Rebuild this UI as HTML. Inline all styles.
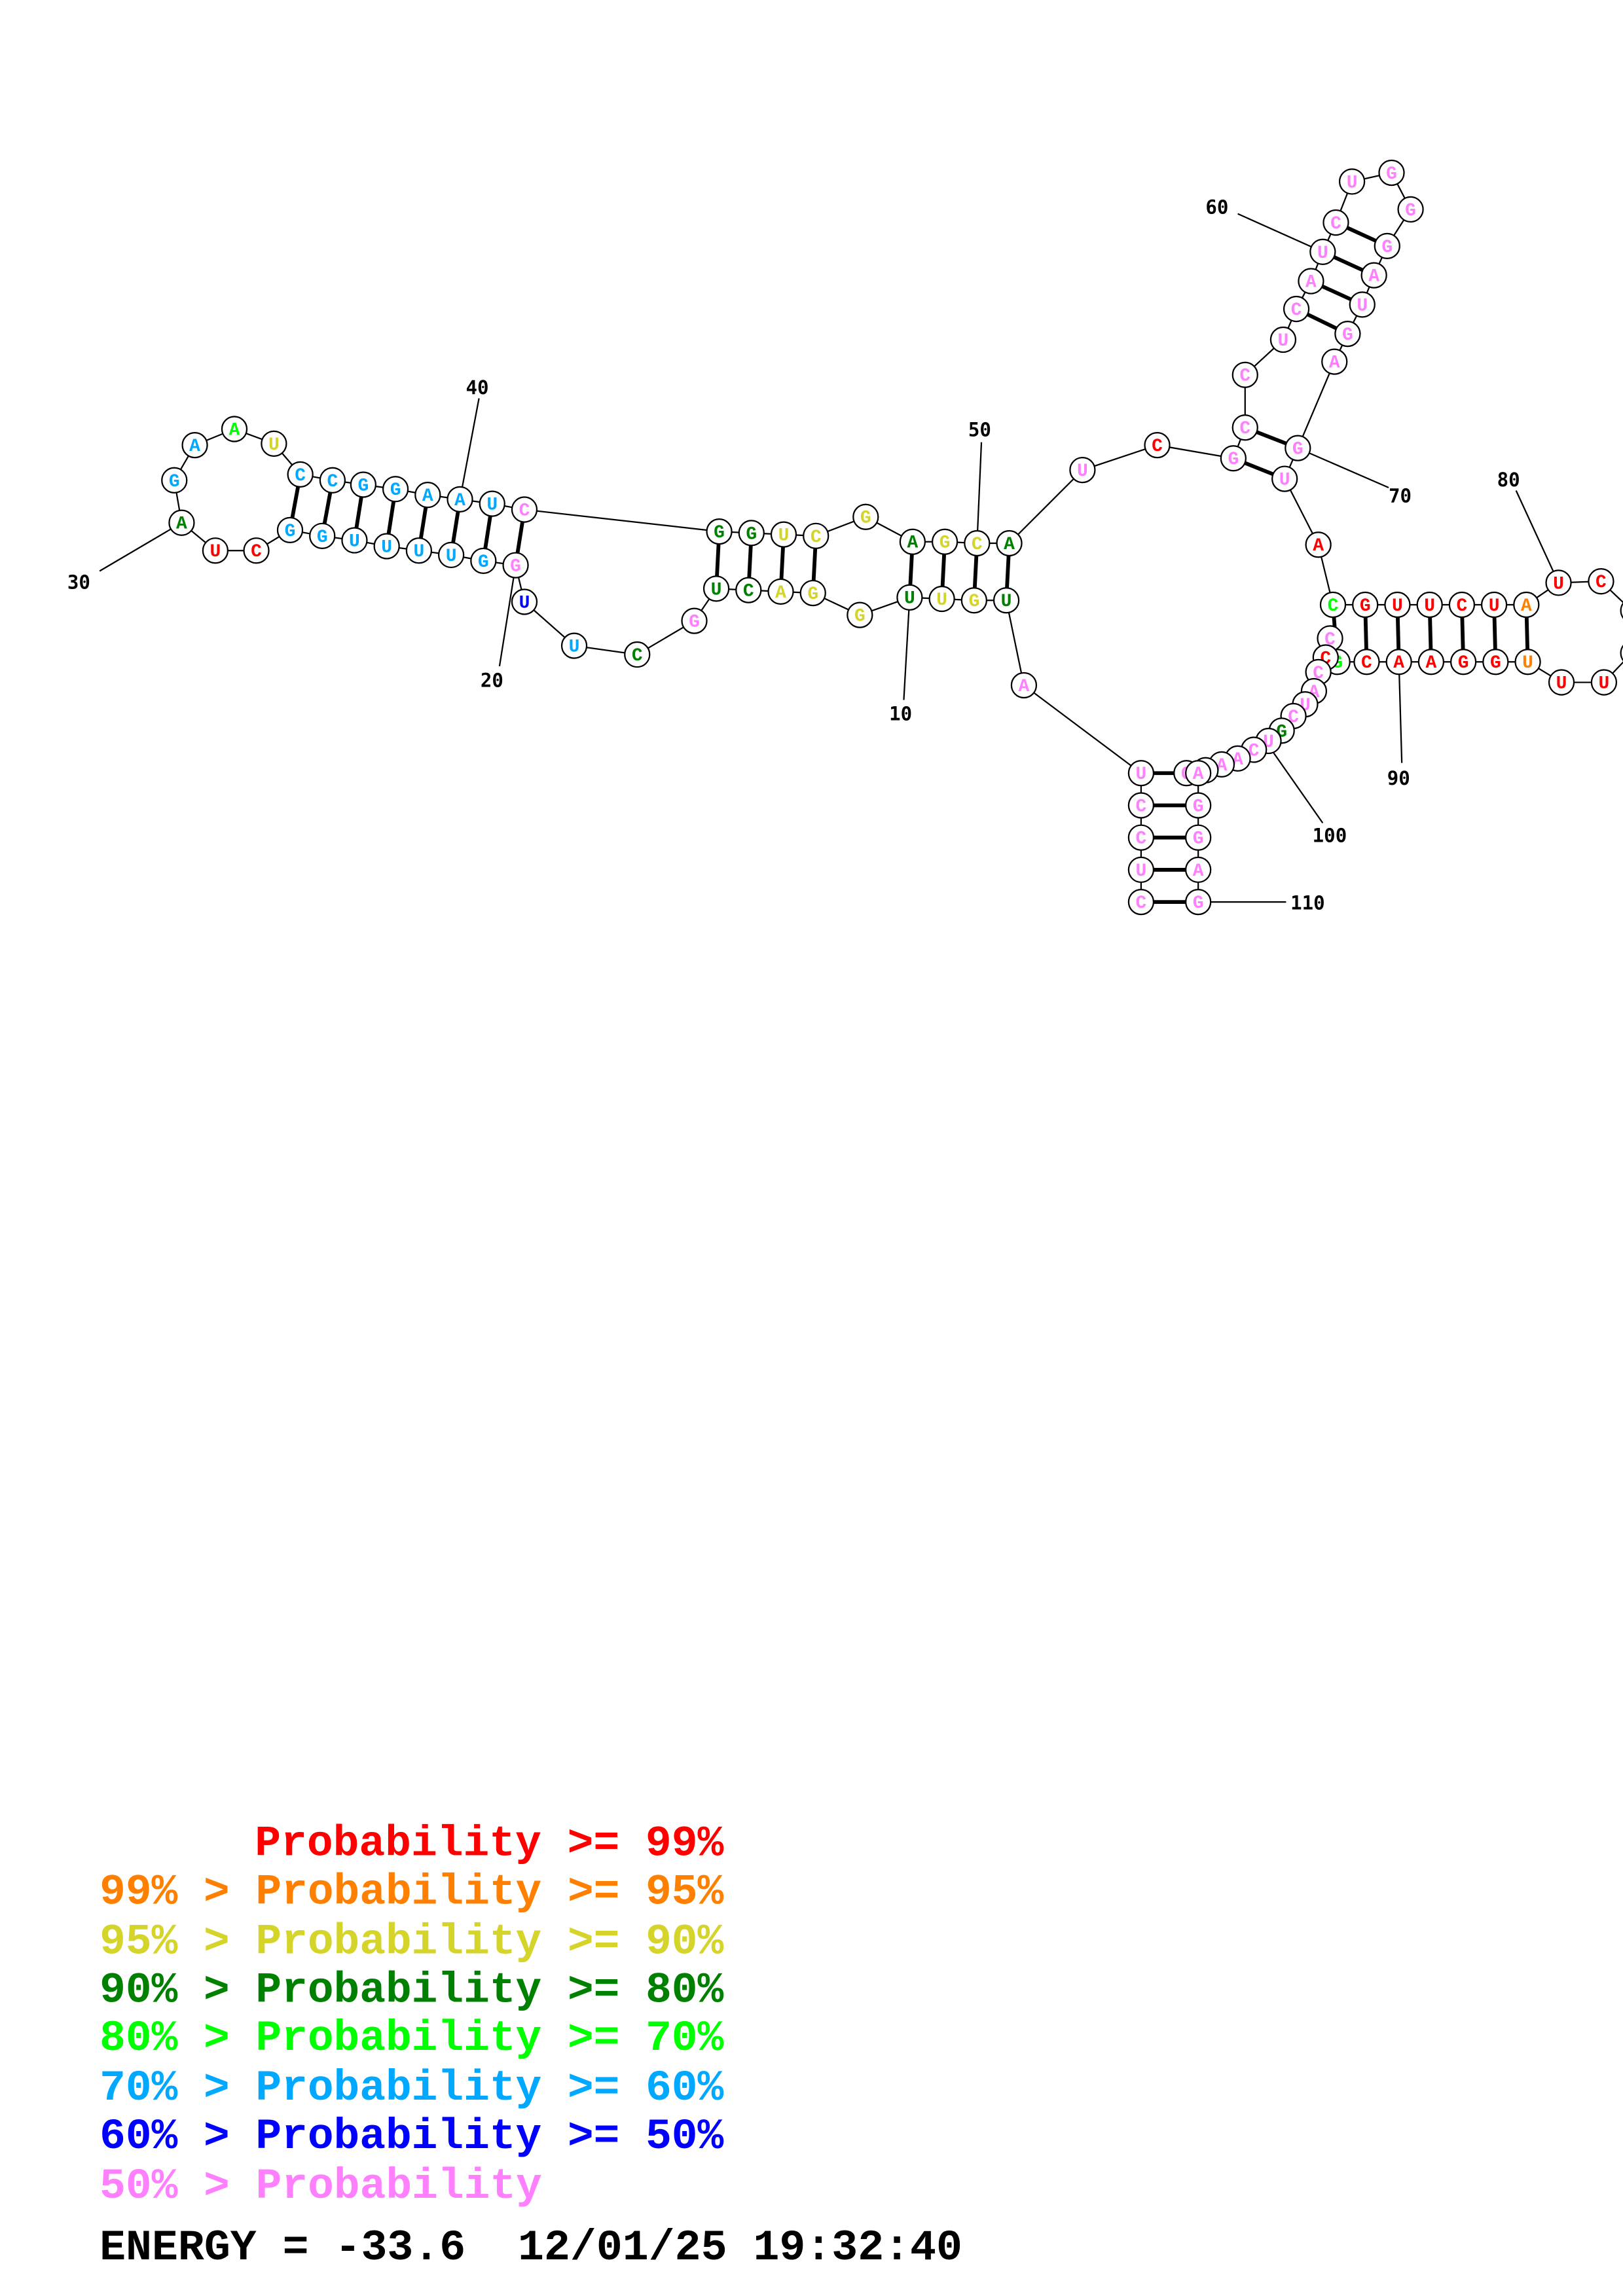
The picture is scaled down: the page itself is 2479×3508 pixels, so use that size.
<!DOCTYPE html>
<html><head><meta charset="utf-8"><style>
html,body{margin:0;padding:0;background:#fff}
svg{display:block}
.n circle{fill:#fff;stroke:#000;stroke-width:1}
.n text{font-family:"Liberation Mono",monospace;font-weight:bold;font-size:12.5px;text-anchor:middle}
.r{fill:#ff0000}.o{fill:#ff8000}.y{fill:#d4d42a}.d{fill:#008000}.g{fill:#00ff00}.l{fill:#00a8ff}.b{fill:#0000ff}.p{fill:#ff80ff}.k{fill:#000}
.lab{font-family:"DejaVu Sans Mono","Liberation Mono",monospace;font-weight:bold;font-size:13px;fill:#000}
.leg{font-family:"Liberation Mono",monospace;font-weight:bold;font-size:29.6px}
</style></head><body>
<svg width="2479" height="3508" viewBox="0 0 1108 1568" preserveAspectRatio="none" xmlns="http://www.w3.org/2000/svg">
<rect width="1108" height="1568" fill="#fff"/>
<polyline fill="none" stroke="#000" stroke-width="1" points="779,616 779,594 779,572 779,550 779,528 699,468 687,410 665,410 643,409 621,408 587,420 555,405 533,404 511,403 489,402 474,424 435,447 392,441 358,411 352,386 330,383 308,379 286,376 264,373 242,369 220,366 198,362 175,376 147,376 124,357 119,328 133,304 160,293 187,303 205,324 227,328 248,331 270,334 292,338 314,341 336,344 358,348 491,363 513,364 535,365 557,366 591,353 623,370 645,370 667,371 689,371 739,321 790,304 842,313 850,292 850,256 876,232 885,211 895,192 903,172 912,152 923,124 950,118 963,143 947,168 938,188 930,208 920,228 911,247 886,306 877,327 900,372 910,413 932,413 954,413 976,413 998,413 1020,413 1042,413 1064,398 1093,397 1114,417 1114,446 1095,466 1066,466 1043,452 1021,452 999,452 977,452 955,452 933,452 913,452 908,436 905,449 900,459 897,472 891,481 883,489 875,500 866,506 856,513 845,518 834,522 823,526 810,528 818,528 818,550 818,572 818,594 818,616"/>
<g stroke="#000" stroke-width="2.6">
<line x1="779" y1="616" x2="818" y2="616"/><line x1="779" y1="594" x2="818" y2="594"/><line x1="779" y1="572" x2="818" y2="572"/><line x1="779" y1="550" x2="818" y2="550"/><line x1="779" y1="528" x2="812" y2="528"/>
<line x1="205" y1="324" x2="198" y2="362"/><line x1="227" y1="328" x2="220" y2="366"/><line x1="248" y1="331" x2="242" y2="369"/><line x1="270" y1="334" x2="264" y2="373"/><line x1="292" y1="338" x2="286" y2="376"/><line x1="314" y1="341" x2="308" y2="379"/><line x1="336" y1="344" x2="330" y2="383"/><line x1="358" y1="348" x2="352" y2="386"/>
<line x1="491" y1="363" x2="489" y2="402"/><line x1="513" y1="364" x2="511" y2="403"/><line x1="535" y1="365" x2="533" y2="404"/><line x1="557" y1="366" x2="555" y2="405"/>
<line x1="623" y1="370" x2="621" y2="408"/><line x1="645" y1="370" x2="643" y2="409"/><line x1="667" y1="371" x2="665" y2="410"/><line x1="689" y1="371" x2="687" y2="410"/>
<line x1="842" y1="313" x2="877" y2="327"/><line x1="850" y1="292" x2="886" y2="306"/>
<line x1="885" y1="211" x2="920" y2="228"/><line x1="895" y1="192" x2="930" y2="208"/><line x1="903" y1="172" x2="938" y2="188"/><line x1="912" y1="152" x2="947" y2="168"/>
<line x1="910" y1="413" x2="913" y2="452"/><line x1="932" y1="413" x2="933" y2="452"/><line x1="954" y1="413" x2="955" y2="452"/><line x1="976" y1="413" x2="977" y2="452"/><line x1="998" y1="413" x2="999" y2="452"/><line x1="1020" y1="413" x2="1021" y2="452"/><line x1="1042" y1="413" x2="1043" y2="452"/>
</g>
<g stroke="#000" stroke-width="1">
<line x1="68" y1="390" x2="124" y2="357"/><line x1="327" y1="272" x2="314" y2="341"/><line x1="341" y1="455" x2="352" y2="386"/><line x1="670" y1="302" x2="667" y2="371"/><line x1="617" y1="478" x2="621" y2="408"/><line x1="845" y1="146" x2="903" y2="172"/><line x1="948" y1="333" x2="886" y2="306"/><line x1="1035" y1="335" x2="1064" y2="398"/><line x1="957" y1="521" x2="955" y2="452"/><line x1="903" y1="562" x2="868" y2="512"/><line x1="878" y1="616" x2="818" y2="616"/>
</g>
<g class="lab">
<text x="46" y="402">30</text><text x="318" y="269">40</text><text x="328" y="469">20</text><text x="661" y="298">50</text><text x="607" y="492">10</text><text x="823" y="146">60</text><text x="948" y="343">70</text><text x="1022" y="332">80</text><text x="947" y="536">90</text><text x="896" y="575">100</text><text x="881" y="621">110</text>
</g>
<g class="n">
<circle cx="779" cy="616" r="8.5"/><text x="779" y="620" class="p">C</text>
<circle cx="779" cy="594" r="8.5"/><text x="779" y="598" class="p">U</text>
<circle cx="779" cy="572" r="8.5"/><text x="779" y="576" class="p">C</text>
<circle cx="779" cy="550" r="8.5"/><text x="779" y="554" class="p">C</text>
<circle cx="779" cy="528" r="8.5"/><text x="779" y="532" class="p">U</text>
<circle cx="699" cy="468" r="8.5"/><text x="699" y="472" class="p">A</text>
<circle cx="687" cy="410" r="8.5"/><text x="687" y="414" class="d">U</text>
<circle cx="665" cy="410" r="8.5"/><text x="665" y="414" class="y">G</text>
<circle cx="643" cy="409" r="8.5"/><text x="643" y="413" class="y">U</text>
<circle cx="621" cy="408" r="8.5"/><text x="621" y="412" class="d">U</text>
<circle cx="587" cy="420" r="8.5"/><text x="587" y="424" class="y">G</text>
<circle cx="555" cy="405" r="8.5"/><text x="555" y="409" class="y">G</text>
<circle cx="533" cy="404" r="8.5"/><text x="533" y="408" class="y">A</text>
<circle cx="511" cy="403" r="8.5"/><text x="511" y="407" class="d">C</text>
<circle cx="489" cy="402" r="8.5"/><text x="489" y="406" class="d">U</text>
<circle cx="474" cy="424" r="8.5"/><text x="474" y="428" class="p">G</text>
<circle cx="435" cy="447" r="8.5"/><text x="435" y="451" class="d">C</text>
<circle cx="392" cy="441" r="8.5"/><text x="392" y="445" class="l">U</text>
<circle cx="358" cy="411" r="8.5"/><text x="358" y="415" class="b">U</text>
<circle cx="352" cy="386" r="8.5"/><text x="352" y="390" class="p">G</text>
<circle cx="330" cy="383" r="8.5"/><text x="330" y="387" class="l">G</text>
<circle cx="308" cy="379" r="8.5"/><text x="308" y="383" class="l">U</text>
<circle cx="286" cy="376" r="8.5"/><text x="286" y="380" class="l">U</text>
<circle cx="264" cy="373" r="8.5"/><text x="264" y="377" class="l">U</text>
<circle cx="242" cy="369" r="8.5"/><text x="242" y="373" class="l">U</text>
<circle cx="220" cy="366" r="8.5"/><text x="220" y="370" class="l">G</text>
<circle cx="198" cy="362" r="8.5"/><text x="198" y="366" class="l">G</text>
<circle cx="175" cy="376" r="8.5"/><text x="175" y="380" class="r">C</text>
<circle cx="147" cy="376" r="8.5"/><text x="147" y="380" class="r">U</text>
<circle cx="124" cy="357" r="8.5"/><text x="124" y="361" class="d">A</text>
<circle cx="119" cy="328" r="8.5"/><text x="119" y="332" class="l">G</text>
<circle cx="133" cy="304" r="8.5"/><text x="133" y="308" class="l">A</text>
<circle cx="160" cy="293" r="8.5"/><text x="160" y="297" class="g">A</text>
<circle cx="187" cy="303" r="8.5"/><text x="187" y="307" class="y">U</text>
<circle cx="205" cy="324" r="8.5"/><text x="205" y="328" class="l">C</text>
<circle cx="227" cy="328" r="8.5"/><text x="227" y="332" class="l">C</text>
<circle cx="248" cy="331" r="8.5"/><text x="248" y="335" class="l">G</text>
<circle cx="270" cy="334" r="8.5"/><text x="270" y="338" class="l">G</text>
<circle cx="292" cy="338" r="8.5"/><text x="292" y="342" class="l">A</text>
<circle cx="314" cy="341" r="8.5"/><text x="314" y="345" class="l">A</text>
<circle cx="336" cy="344" r="8.5"/><text x="336" y="348" class="l">U</text>
<circle cx="358" cy="348" r="8.5"/><text x="358" y="352" class="p">C</text>
<circle cx="491" cy="363" r="8.5"/><text x="491" y="367" class="d">G</text>
<circle cx="513" cy="364" r="8.5"/><text x="513" y="368" class="d">G</text>
<circle cx="535" cy="365" r="8.5"/><text x="535" y="369" class="y">U</text>
<circle cx="557" cy="366" r="8.5"/><text x="557" y="370" class="y">C</text>
<circle cx="591" cy="353" r="8.5"/><text x="591" y="357" class="y">G</text>
<circle cx="623" cy="370" r="8.5"/><text x="623" y="374" class="d">A</text>
<circle cx="645" cy="370" r="8.5"/><text x="645" y="374" class="y">G</text>
<circle cx="667" cy="371" r="8.5"/><text x="667" y="375" class="y">C</text>
<circle cx="689" cy="371" r="8.5"/><text x="689" y="375" class="d">A</text>
<circle cx="739" cy="321" r="8.5"/><text x="739" y="325" class="p">U</text>
<circle cx="790" cy="304" r="8.5"/><text x="790" y="308" class="r">C</text>
<circle cx="842" cy="313" r="8.5"/><text x="842" y="317" class="p">G</text>
<circle cx="850" cy="292" r="8.5"/><text x="850" y="296" class="p">C</text>
<circle cx="850" cy="256" r="8.5"/><text x="850" y="260" class="p">C</text>
<circle cx="876" cy="232" r="8.5"/><text x="876" y="236" class="p">U</text>
<circle cx="885" cy="211" r="8.5"/><text x="885" y="215" class="p">C</text>
<circle cx="895" cy="192" r="8.5"/><text x="895" y="196" class="p">A</text>
<circle cx="903" cy="172" r="8.5"/><text x="903" y="176" class="p">U</text>
<circle cx="912" cy="152" r="8.5"/><text x="912" y="156" class="p">C</text>
<circle cx="923" cy="124" r="8.5"/><text x="923" y="128" class="p">U</text>
<circle cx="950" cy="118" r="8.5"/><text x="950" y="122" class="p">G</text>
<circle cx="963" cy="143" r="8.5"/><text x="963" y="147" class="p">G</text>
<circle cx="947" cy="168" r="8.5"/><text x="947" y="172" class="p">G</text>
<circle cx="938" cy="188" r="8.5"/><text x="938" y="192" class="p">A</text>
<circle cx="930" cy="208" r="8.5"/><text x="930" y="212" class="p">U</text>
<circle cx="920" cy="228" r="8.5"/><text x="920" y="232" class="p">G</text>
<circle cx="911" cy="247" r="8.5"/><text x="911" y="251" class="p">A</text>
<circle cx="886" cy="306" r="8.5"/><text x="886" y="310" class="p">G</text>
<circle cx="877" cy="327" r="8.5"/><text x="877" y="331" class="p">U</text>
<circle cx="900" cy="372" r="8.5"/><text x="900" y="376" class="r">A</text>
<circle cx="910" cy="413" r="8.5"/><text x="910" y="417" class="g">C</text>
<circle cx="932" cy="413" r="8.5"/><text x="932" y="417" class="r">G</text>
<circle cx="954" cy="413" r="8.5"/><text x="954" y="417" class="r">U</text>
<circle cx="976" cy="413" r="8.5"/><text x="976" y="417" class="r">U</text>
<circle cx="998" cy="413" r="8.5"/><text x="998" y="417" class="r">C</text>
<circle cx="1020" cy="413" r="8.5"/><text x="1020" y="417" class="r">U</text>
<circle cx="1042" cy="413" r="8.5"/><text x="1042" y="417" class="o">A</text>
<circle cx="1064" cy="398" r="8.5"/><text x="1064" y="402" class="r">U</text>
<circle cx="1093" cy="397" r="8.5"/><text x="1093" y="401" class="r">C</text>
<circle cx="1115" cy="417" r="8.5"/>
<circle cx="1115" cy="446" r="8.5"/>
<circle cx="1095" cy="466" r="8.5"/><text x="1095" y="470" class="r">U</text>
<circle cx="1066" cy="466" r="8.5"/><text x="1066" y="470" class="r">U</text>
<circle cx="1043" cy="452" r="8.5"/><text x="1043" y="456" class="o">U</text>
<circle cx="1021" cy="452" r="8.5"/><text x="1021" y="456" class="r">G</text>
<circle cx="999" cy="452" r="8.5"/><text x="999" y="456" class="r">G</text>
<circle cx="977" cy="452" r="8.5"/><text x="977" y="456" class="r">A</text>
<circle cx="955" cy="452" r="8.5"/><text x="955" y="456" class="r">A</text>
<circle cx="933" cy="452" r="8.5"/><text x="933" y="456" class="r">C</text>
<circle cx="913" cy="452" r="8.5"/><text x="913" y="456" class="g">G</text>
<circle cx="908" cy="436" r="8.5"/><text x="908" y="440" class="p">C</text>
<circle cx="905" cy="449" r="8.5"/><text x="905" y="453" class="r">C</text>
<circle cx="900" cy="459" r="8.5"/><text x="900" y="463" class="p">C</text>
<circle cx="897" cy="472" r="8.5"/><text x="897" y="476" class="p">A</text>
<circle cx="891" cy="481" r="8.5"/><text x="891" y="485" class="p">U</text>
<circle cx="883" cy="489" r="8.5"/><text x="883" y="493" class="p">C</text>
<circle cx="875" cy="499" r="8.5"/><text x="875" y="503" class="d">G</text>
<circle cx="866" cy="506" r="8.5"/><text x="866" y="510" class="p">U</text>
<circle cx="856" cy="512" r="8.5"/><text x="856" y="516" class="p">C</text>
<circle cx="845" cy="518" r="8.5"/><text x="845" y="522" class="p">A</text>
<circle cx="834" cy="522" r="8.5"/><text x="834" y="526" class="p">A</text>
<circle cx="823" cy="526" r="8.5"/><text x="823" y="530" class="p">A</text>
<circle cx="810" cy="528" r="8.5"/><text x="810" y="532" class="p">C</text>
<circle cx="818" cy="528" r="8.5"/><text x="818" y="532" class="p">A</text>
<circle cx="818" cy="550" r="8.5"/><text x="818" y="554" class="p">G</text>
<circle cx="818" cy="572" r="8.5"/><text x="818" y="576" class="p">G</text>
<circle cx="818" cy="594" r="8.5"/><text x="818" y="598" class="p">A</text>
<circle cx="818" cy="616" r="8.5"/><text x="818" y="620" class="p">G</text>
</g>
<g class="leg">
<text x="174" y="1267" class="r" textLength="320" lengthAdjust="spacingAndGlyphs">Probability &gt;= 99%</text>
<text x="68" y="1300" class="o" textLength="426" lengthAdjust="spacingAndGlyphs">99% &gt; Probability &gt;= 95%</text>
<text x="68" y="1334" class="y" textLength="426" lengthAdjust="spacingAndGlyphs">95% &gt; Probability &gt;= 90%</text>
<text x="68" y="1367" class="d" textLength="426" lengthAdjust="spacingAndGlyphs">90% &gt; Probability &gt;= 80%</text>
<text x="68" y="1400" class="g" textLength="426" lengthAdjust="spacingAndGlyphs">80% &gt; Probability &gt;= 70%</text>
<text x="68" y="1434" class="l" textLength="426" lengthAdjust="spacingAndGlyphs">70% &gt; Probability &gt;= 60%</text>
<text x="68" y="1467" class="b" textLength="426" lengthAdjust="spacingAndGlyphs">60% &gt; Probability &gt;= 50%</text>
<text x="68" y="1501" class="p" textLength="302" lengthAdjust="spacingAndGlyphs">50% &gt; Probability</text>
<text x="68" y="1543" class="k" textLength="589" lengthAdjust="spacingAndGlyphs" xml:space="preserve">ENERGY = -33.6  12/01/25 19:32:40</text>
</g>
</svg>
</body></html>
